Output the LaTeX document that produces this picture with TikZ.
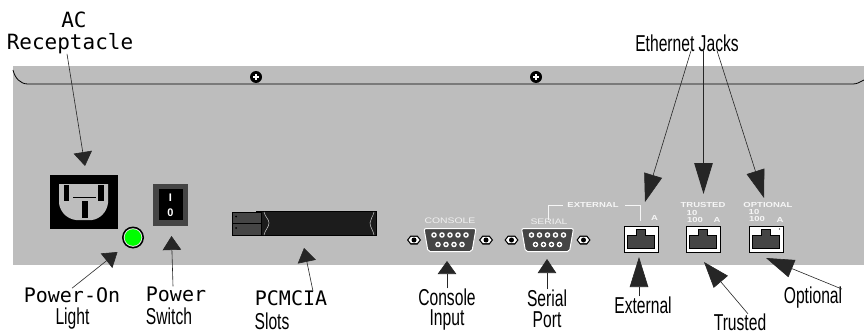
\documentclass[tikz,border=0pt]{standalone}
\usepackage{fontspec}
\setmainfont{Liberation Sans}
\newfontfamily\narrowf{Liberation Sans}[FakeStretch=0.68]
\newfontfamily\widef{Liberation Sans}[FakeStretch=1.3]
\newfontfamily\monof{DejaVu Sans Mono}
\usetikzlibrary{arrows.meta}
\definecolor{panel}{HTML}{BDBDBD}
\definecolor{dark}{HTML}{454545}
\definecolor{bar}{HTML}{1C1C1C}
\definecolor{silk}{HTML}{F6F6F6}
\tikzset{
  monolabel/.style={inner sep=0pt,font=\monof\fontsize{20}{20}\selectfont,text=black},
  narrowlabel/.style={inner sep=0pt,font=\narrowf\fontsize{23}{24}\selectfont,text=black},
  silkbold/.style={inner sep=0pt,text=silk,font=\widef\bfseries\fontsize{7.3}{8}\selectfont},
  silklight/.style={inner sep=0pt,text=silk!90!panel,font=\widef\fontsize{8}{8}\selectfont},
  callout/.style={draw=black!85,line width=0.6pt,-{Triangle[length=#1,width=18.5pt]}},
  callout/.default=14pt,
  silkline/.style={draw=silk,line width=0.9pt},
  screw/.pic={
    \fill[black] (0,0) circle (6);
    \draw[white,line width=1.2pt] (-3,0) -- (3,0) (0,-3) -- (0,3);
  },
  jack/.pic={
    \draw[black,fill=white,line width=1pt] (-17,-13) rectangle (17,13);
    \draw[black,fill=dark,line width=0.8pt] (-13.5,9.5) -- (13.5,9.5) -- (13.5,-4) -- (4.5,-4) -- (4.5,-10) -- (-4.5,-10) -- (-4.5,-4) -- (-13.5,-4) -- cycle;
  },
  hexscrew/.pic={
    \fill[black] (-7,0) -- (-3.5,-4.5) -- (3.5,-4.5) -- (7,0) -- (3.5,4.5) -- (-3.5,4.5) -- cycle;
    \fill[white] (-5.5,0) -- (-3,-3.2) -- (3,-3.2) -- (5.5,0) -- (3,3.2) -- (-3,3.2) -- cycle;
    \fill[black] (0,0) circle (2.5);
  },
  dsub/.pic={
    \draw[white,fill=dark,line width=1pt,rounded corners=2pt] (-26,-11.5) -- (26,-11.5) -- (22,11.5) -- (-22,11.5) -- cycle;
    \foreach \i in {-2,...,2} {\fill[white] (\i*8,-5) circle (2.8); \fill[dark] (\i*8,-5) circle (1.3);}
    \foreach \i in {-1.5,-0.5,0.5,1.5} {\fill[white] (\i*8,4.5) circle (2.8); \fill[dark] (\i*8,4.5) circle (1.3);}
    \pic at (-36,0) {hexscrew};
    \pic at (36,0) {hexscrew};
  }
}
\begin{document}
\begin{tikzpicture}[x=1pt,y=-1pt]
\useasboundingbox (0,0) rectangle (864,334);
\fill[white] (0,0) rectangle (864,334);
% panel
\fill[panel] (13,66) rectangle (864,265);
\draw[black,line width=0.8pt] (13,70) .. controls (15,78) and (20,84) .. (28,84) -- (853,84) .. controls (857,84) and (860,82) .. (864,80);
\pic at (256,77) {screw};
\pic at (536,77) {screw};
% AC receptacle
\fill[black] (50,175) rectangle (118,229);
\fill[panel] (59,184) -- (108,184) -- (108,203) .. controls (107,212) and (100,219) .. (92,220) -- (76,220) .. controls (67,219) and (60,212) .. (59,203) -- cycle;
\fill[black] (64,185) rectangle (69,201);
\fill[black] (98,185) rectangle (104,201);
\fill[black] (82,201) rectangle (88,218);
\draw[black,line width=0.5pt] (73,197) -- (96,197);
% power light
\fill[black] (133,237.5) circle (11);
\fill[panel!40] (133,237.5) circle (9.3);
\fill[green] (133,237.5) circle (8.3);
% power switch
\fill[dark] (153,184) rectangle (188,225.5);
\fill[black] (159,189) rectangle (183,220);
\node[inner sep=0pt,text=white,font=\bfseries\fontsize{11}{11}\selectfont] (swi) at (170.5,197.5) {I};
\node[inner sep=0pt,text=white,font=\bfseries\fontsize{11}{11}\selectfont] (swo) at (170.5,213) {0};
% PCMCIA
\fill[black] (256,211) rectangle (376.5,236);
\fill[bar] (262,212) rectangle (375.5,235);
\draw[black,fill=dark,line width=0.7pt] (232,212.5) rectangle (261.5,223.5);
\draw[black,fill=dark,line width=0.7pt] (232,223.5) rectangle (261.5,235);
\fill[black] (236,216.5) circle (1);
\fill[black] (236,228) circle (1);
\draw[panel!75,line width=0.5pt] (264,212) .. controls (265,217) and (269,219) .. (269,223) .. controls (269,227) and (265,230) .. (264,235);
\draw[panel!75,line width=0.5pt] (374,212) .. controls (373,217) and (370,219) .. (370,223) .. controls (370,227) and (373,230) .. (374,235);
% serial connectors
\pic at (450,240) {dsub};
\pic at (547.5,240) {dsub};
\node[silklight] (conlab) at (450,221) {CONSOLE};
\node[silklight] (serlab) at (549,222) {SERIAL};
% jacks
\pic at (641,239) {jack};
\pic at (703,239) {jack};
\pic at (766,239) {jack};
\fill[black] (779.5,229) circle (0.6);
\node[silkbold] (extlab) at (593,205) {EXTERNAL};
\node[silkbold] (trulab) at (703,205) {TRUSTED};
\node[silkbold] (optlab) at (768,205) {OPTIONAL};
\draw[silkline] (548,220) -- (548,205) -- (563,205);
\draw[silkline] (625,205) -- (640,205) -- (640,221);
\node[silkbold] at (654.5,218) {A};
\node[silkbold] at (692,213) {10};
\node[silkbold] at (695,219.5) {100};
\node[silkbold] at (717,219.5) {A};
\node[silkbold] at (754,212) {10};
\node[silkbold] at (757,218.5) {100};
\node[silkbold] at (780,219.5) {A};
% labels
\node[monolabel,font=\monof\fontsize{21}{21}\selectfont] (ac) at (74,20) {AC};
\node[monolabel,font=\monof\fontsize{21}{21}\selectfont] (rec) at (70,43.5) {Receptacle};
\node[monolabel] (pon) at (72,295) {Power-On};
\node[narrowlabel] (light) at (72.5,319) {Light};
\node[monolabel] (pow) at (176,294) {Power};
\node[narrowlabel] (swl) at (169,316) {Switch};
\node[monolabel] (pcm) at (291,298) {PCMCIA};
\node[narrowlabel] (slots) at (272,321) {Slots};
\node[narrowlabel] (con) at (447,297) {Console};
\node[narrowlabel] (inp) at (447,319.5) {Input};
\node[narrowlabel] (ser) at (547,298) {Serial};
\node[narrowlabel] (prt) at (547,320) {Port};
\node[narrowlabel] (ext) at (643,305) {External};
\node[narrowlabel] (tru) at (740,322.5) {Trusted};
\node[narrowlabel] (opt) at (813,298) {Optional};
\node[narrowlabel] (eth) at (687,43) {Ethernet Jacks};
% arrow tips
\coordinate (tac) at (85,166);
\coordinate (tpon) at (117.5,252);
\coordinate (tpow) at (171.5,236);
\coordinate (tpcm) at (304,248);
\coordinate (tcon) at (447,261);
\coordinate (tser) at (547,259);
\coordinate (text) at (639,257);
\coordinate (ttru) at (704,262);
\coordinate (topt) at (766,258);
\coordinate (te1) at (645,202);
\coordinate (te2) at (703.5,194);
\coordinate (te3) at (764,198);
% connectors
\draw[callout] ([xshift=-3pt]rec.south) -- (tac);
\draw[callout] ([yshift=-1pt]pon.north) -- (tpon);
\draw[callout] ([xshift=-3pt]pow.north) -- (tpow);
\draw[callout] ([xshift=22pt,yshift=-1pt]pcm.north) -- (tpcm);
\draw[callout={13pt}] (con.north) -- (tcon);
\draw[callout] (ser.north) -- (tser);
\draw[callout={30pt}] ([xshift=-4pt]ext.north) -- (text);
\draw[callout={26pt}] ([xshift=8pt]tru.north) -- (ttru);
\draw[callout={28pt}] ([xshift=29pt,yshift=-2pt]opt.north) -- (topt);
\draw[callout={28pt}] ([xshift=4pt,yshift=1pt]eth.south) -- (te1);
\draw[callout={31pt},line width=1pt] ([xshift=16.5pt,yshift=1pt]eth.south) -- (te2);
\draw[callout={28pt}] ([xshift=30pt,yshift=1pt]eth.south) -- (te3);
\end{tikzpicture}
\end{document}
